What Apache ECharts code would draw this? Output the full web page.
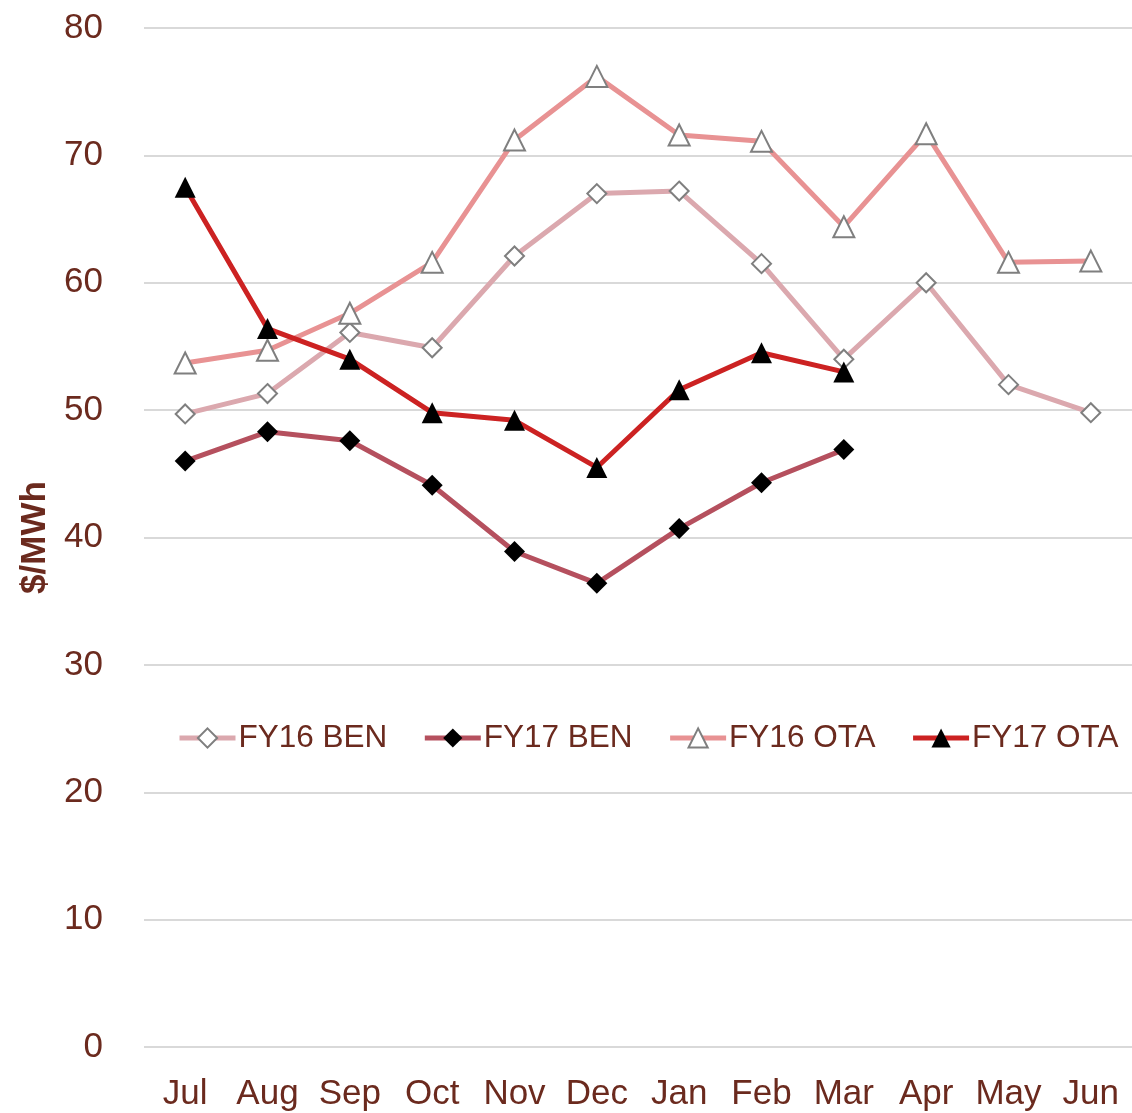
<!DOCTYPE html>
<html>
<head>
<meta charset="utf-8">
<script src="https://cdn.jsdelivr.net/npm/echarts@6/dist/echarts.min.js"></script>
<style>
  html, body { margin: 0; padding: 0; background: #fff; }
  #chart { width: 1132px; height: 1113px; }
</style>
</head>
<body>
<div id="chart"></div>
<script>
const months = ['Jul', 'Aug', 'Sep', 'Oct', 'Nov', 'Dec', 'Jan', 'Feb', 'Mar', 'Apr', 'May', 'Jun'];
const fy16Ben = [49.7, 51.3, 56.1, 54.9, 62.1, 67.0, 67.2, 61.5, 54.0, 60.0, 52.0, 49.8];
const fy17Ben = [46.0, 48.3, 47.6, 44.1, 38.9, 36.4, 40.7, 44.3, 46.9];
const fy16Ota = [53.7, 54.7, 57.6, 61.6, 71.2, 76.2, 71.6, 71.1, 64.4, 71.7, 61.6, 61.7];
const fy17Ota = [67.5, 56.4, 54.0, 49.8, 49.2, 45.5, 51.6, 54.5, 53.0];
const yTicks = [0, 10, 20, 30, 40, 50, 60, 70, 80];

const textColor = '#6b2a1e';
const font = 'Liberation Sans, Arial, sans-serif';

// 空心标记用白底灰边
const hollow = { color: '#fff', borderColor: '#7f7f7f', borderWidth: 2 };
const solid = { color: '#000', borderColor: '#000', borderWidth: 0 };

function lineSeries(name, data, color, symbol, size, style) {
  return {
    name: name,
    type: 'line',
    data: data,
    symbol: symbol,
    symbolSize: size,
    showAllSymbol: true,
    lineStyle: { color: color, width: 5 },
    itemStyle: style,
    emphasis: { disabled: true },
    z: 2
  };
}

const chart = echarts.init(document.getElementById('chart'));
chart.setOption({
  animation: false,
  grid: { left: 144, right: -1, top: 28, bottom: 66, containLabel: false },
  legend: {
    left: 177,
    top: 722,
    width: 980,
    padding: 0,
    itemWidth: 56,
    itemHeight: 24,
    itemGap: 35,
    lineStyle: { width: 5 },
    textStyle: { color: textColor, fontSize: 31.5, fontFamily: font, padding: [0, 0, 0, -2] },
    data: ['FY16 BEN', 'FY17 BEN', 'FY16 OTA', 'FY17 OTA']
  },
  xAxis: {
    type: 'category',
    data: months,
    boundaryGap: true,
    axisLine: { show: false },
    axisTick: { show: false },
    axisLabel: { color: textColor, fontSize: 35, fontFamily: font, margin: 30, interval: 0 }
  },
  yAxis: {
    type: 'value',
    min: yTicks[0],
    max: yTicks[yTicks.length - 1],
    interval: 10,
    name: '$/MWh',
    nameLocation: 'middle',
    nameGap: 88,
    nameTextStyle: { color: textColor, fontSize: 35, fontWeight: 'bold', fontFamily: font },
    axisLine: { show: false },
    axisTick: { show: false },
    axisLabel: { color: textColor, fontSize: 35, fontFamily: font, margin: 41 },
    splitLine: { lineStyle: { color: '#d9d9d9', width: 2 } }
  },
  series: [
    lineSeries('FY16 BEN', fy16Ben, '#dba8ae', 'diamond', 19, hollow),
    lineSeries('FY17 BEN', fy17Ben, '#b5505e', 'diamond', 21, solid),
    lineSeries('FY16 OTA', fy16Ota, '#e89293', 'triangle', 21, hollow),
    lineSeries('FY17 OTA', fy17Ota, '#cc2222', 'triangle', 21, solid)
  ]
});
</script>
</body>
</html>
